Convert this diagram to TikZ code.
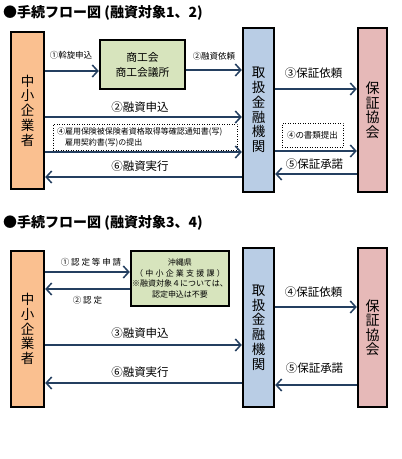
\documentclass[tikz,border=0pt]{standalone}
\usepackage{fontspec}
\newfontfamily\jp{Noto Sans CJK JP}
\usetikzlibrary{arrows.meta}
\definecolor{smeorange}{HTML}{FAC090}
\definecolor{cciGreen}{HTML}{D7E4BD}
\definecolor{bankblue}{HTML}{B9CDE5}
\definecolor{guarpink}{HTML}{E6B9B8}
\definecolor{flowline}{HTML}{243F60}
\begin{document}
\begin{tikzpicture}[x=1pt, y=-1pt, every node/.style={inner sep=0pt},
  party/.style={draw=black, line width=2.4pt, align=center, font={\jp\fontsize{13.5}{14.8}\selectfont}},
  office/.style={draw=black, line width=2.4pt, align=center},
  flow/.style={draw=flowline, line width=1.5pt, -{Straight Barb[length=5.5pt,width=12pt]}},
  biglbl/.style={font={\jp\fontsize{11.5}{13}\selectfont}},
  smalllbl/.style={font={\jp\fontsize{8.5}{10}\selectfont}},
  widelbl/.style={font={\jp\fontsize{8.5}{10}\selectfont\addfontfeature{LetterSpace=22}}},
  docbox/.style={draw=black, line width=0.5pt, dotted},
  heading/.style={anchor=west, font={\jp\bfseries\fontsize{14}{16}\selectfont}}]
  \useasboundingbox (0,0) rectangle (402,459);
  \node[heading] (head1) at (3,12.5) {●手続フロー図 (融資対象1、2)};
  \node[party, fill=smeorange, minimum width=33pt, minimum height=157pt] (sme1) at (27.5,110.5) {中\\小\\企\\業\\者};
  \node[office, fill=cciGreen, minimum width=85pt, minimum height=49pt, font={\jp\fontsize{10.8}{15}\selectfont}] (cci) at (142.5,64.5) {商工会\\商工会議所};
  \node[party, fill=bankblue, minimum width=31pt, minimum height=164pt] (bank1) at (258.5,110) {取\\扱\\金\\融\\機\\関};
  \node[party, fill=guarpink, minimum width=29pt, minimum height=164pt, font={\jp\fontsize{14}{14.5}\selectfont}] (guar1) at (372.5,110) {保\\証\\協\\会};
  \draw[flow] (sme1.east |- 0,71) -- (cci.west |- 0,71);
  \node[smalllbl] (t11) at (71,55) {①斡旋申込};
  \draw[flow] (cci.east |- 0,70) -- (bank1.west |- 0,70);
  \node[smalllbl] (t12) at (214,56) {②融資依頼};
  \draw[flow] (sme1.east |- 0,117) -- (bank1.west |- 0,117);
  \node[biglbl] (t13) at (140,107) {②融資申込};
  \node[docbox, minimum width=184pt, minimum height=26pt, text width=176pt, align=left, font={\jp\fontsize{8}{11}\selectfont}] (docs1) at (145,137) {④雇用保険被保険者資格取得等確認通知書(写)\\\phantom{④}雇用契約書(写)の提出};
  \draw[flow] (sme1.east |- 0,152) -- (bank1.west |- 0,152);
  \draw[flow] (bank1.west |- 0,177) -- (sme1.east |- 0,177);
  \node[biglbl] (t16) at (140,166) {⑥融資実行};
  \draw[flow] (bank1.east |- 0,89) -- (guar1.west |- 0,89);
  \node[biglbl] (t14) at (313.5,73) {③保証依頼};
  \node[docbox, minimum width=61pt, minimum height=24pt, font={\jp\fontsize{8.5}{10}\selectfont}] (docs2) at (312.5,135) {④の書類提出};
  \draw[flow] (bank1.east |- 0,151) -- (guar1.west |- 0,151);
  \draw[flow] (guar1.west |- 0,174) -- (bank1.east |- 0,174);
  \node[biglbl] (t15) at (314.5,164) {⑤保証承諾};
  \node[heading] (head2) at (3,222.5) {●手続フロー図 (融資対象3、4)};
  \node[party, fill=smeorange, minimum width=33pt, minimum height=156pt] (sme2) at (27.5,329) {中\\小\\企\\業\\者};
  \node[office, fill=cciGreen, minimum width=98pt, minimum height=55pt, font={\jp\fontsize{8}{10.7}\selectfont}] (pref) at (180,278.5) {沖縄県\\{\addfontfeature{LetterSpace=28}（中小企業支援課）}\\※融資対象４については、\\認定申込は不要};
  \node[party, fill=bankblue, minimum width=31pt, minimum height=159pt] (bank2) at (258.5,327.5) {取\\扱\\金\\融\\機\\関};
  \node[party, fill=guarpink, minimum width=29pt, minimum height=159pt, font={\jp\fontsize{14}{14.5}\selectfont}] (guar2) at (372.5,327.5) {保\\証\\協\\会};
  \draw[flow] (sme2.east |- 0,272) -- (pref.west |- 0,272);
  \node[widelbl] (t21) at (91,262) {①認定等申請};
  \draw[flow] (pref.west |- 0,289) -- (sme2.east |- 0,289);
  \node[widelbl] (t22) at (87.5,300) {②認定};
  \draw[flow] (sme2.east |- 0,345) -- (bank2.west |- 0,345);
  \node[biglbl] (t23) at (140,333) {③融資申込};
  \draw[flow] (bank2.west |- 0,383) -- (sme2.east |- 0,383);
  \node[biglbl] (t26) at (140,372) {⑥融資実行};
  \draw[flow] (bank2.east |- 0,307) -- (guar2.west |- 0,307);
  \node[biglbl] (t24) at (313.5,292) {④保証依頼};
  \draw[flow] (guar2.west |- 0,385) -- (bank2.east |- 0,385);
  \node[biglbl] (t25) at (314.5,368) {⑤保証承諾};
\end{tikzpicture}
\end{document}
